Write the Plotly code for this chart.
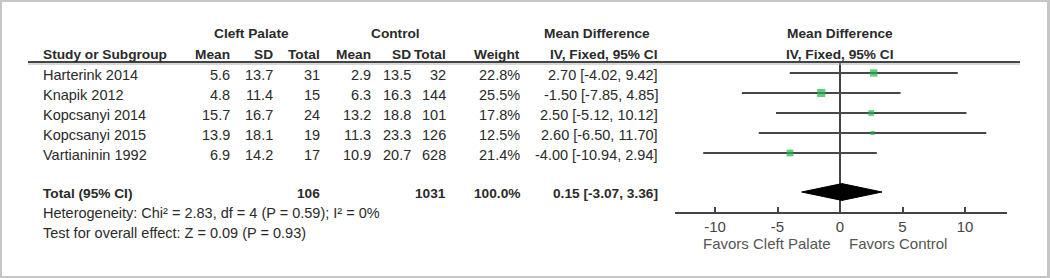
import plotly.graph_objects as go

# ---------------- data ----------------
studies = ["Harterink 2014", "Knapik 2012", "Kopcsanyi 2014", "Kopcsanyi 2015", "Vartianinin 1992"]
cp_mean = [5.6, 4.8, 15.7, 13.9, 6.9]
cp_sd = [13.7, 11.4, 16.7, 18.1, 14.2]
cp_total = [31, 15, 24, 19, 17]
ct_mean = [2.9, 6.3, 13.2, 11.3, 10.9]
ct_sd = [13.5, 16.3, 18.8, 23.3, 20.7]
ct_total = [32, 144, 101, 126, 628]
weight = [22.8, 25.5, 17.8, 12.5, 21.4]
md = [2.70, -1.50, 2.50, 2.60, -4.00]
ci_low = [-4.02, -7.85, -5.12, -6.50, -10.94]
ci_high = [9.42, 4.85, 10.12, 11.70, 2.94]

total_cp = 106
total_ct = 1031
total_weight = 100.0
total_md = 0.15
total_low = -3.07
total_high = 3.36

heterogeneity_text = "Heterogeneity: Chi² = 2.83, df = 4 (P = 0.59); I² = 0%"
overall_text = "Test for overall effect: Z = 0.09 (P = 0.93)"
tick_vals = [-10, -5, 0, 5, 10]
tick_text = ["-10", "-5", "0", "5", "10"]
favors_left = "Favors Cleft Palate"
favors_right = "Favors Control"

# ---------------- layout constants ----------------
W, H = 1050, 278
FONT = "Liberation Sans, Arial, sans-serif"
TXT = "#2a2a2a"
ROW0, ROWH = 73, 20          # pixel of row 0, pixels per row
X0_PX, PX_PER_UNIT = 840, 12.5


def px(x):
    return x / W


def ry(r):
    """row index -> paper y"""
    return 1 - (ROW0 + ROWH * r) / H


# column right edges (pixels)
COL = dict(study=41, cp_mean=232, cp_sd=275, cp_total=322, ct_mean=373, ct_sd=413,
           ct_total=448, weight=522, ci=660)

rows = list(range(len(studies)))
total_row = 6

fig = go.Figure()

# CI lines
xs, ys = [], []
for r, lo, hi in zip(rows, ci_low, ci_high):
    xs += [lo, hi, None]
    ys += [r, r, None]
fig.add_trace(go.Scatter(x=xs, y=ys, mode="lines", line=dict(color="#474747", width=2),
                         hoverinfo="skip", showlegend=False))
# point estimates
fig.add_trace(go.Scatter(x=md, y=rows, mode="markers",
                         marker=dict(symbol="square", color="#1fb84a",
                                     size=[0.32 * w for w in weight], line=dict(width=0)),
                         showlegend=False))
# diamond
dh = 0.42
dy = total_row - 0.05
fig.add_trace(go.Scatter(x=[total_low, total_md, total_high, total_md, total_low],
                         y=[dy, dy - dh, dy, dy + dh, dy], mode="lines", fill="toself",
                         fillcolor="black", line=dict(color="black", width=1),
                         showlegend=False))

ann = []


def txt(x, r, s, anchor="right", bold=False, size=14.5, color=TXT, xref="paper"):
    ann.append(dict(x=x, y=ry(r), xref=xref, yref="paper", text=s, showarrow=False,
                    xanchor=anchor, yanchor="middle",
                    font=dict(family=FONT, size=13.7 if bold else size, color=color,
                              weight="bold" if bold else "normal")))


# headers
txt(px(251), -2.0, "Cleft Palate", "center", True)
txt(px(395), -2.0, "Control", "center", True)
txt(px(597), -2.0, "Mean Difference", "center", True)
txt(0, -2.0, "Mean Difference", "center", True, xref="x")
hy = -0.95
txt(px(COL["study"]), hy, "Study or Subgroup", "left", True)
txt(px(COL["cp_mean"]), hy, "Mean", bold=True)
txt(px(COL["cp_sd"]), hy, "SD", bold=True)
txt(px(COL["cp_total"]), hy, "Total", bold=True)
txt(px(COL["ct_mean"]), hy, "Mean", bold=True)
txt(px(COL["ct_sd"]), hy, "SD", bold=True)
txt(px(COL["ct_total"]), hy, "Total", bold=True)
txt(px(COL["weight"]), hy, "Weight", bold=True)
txt(px(COL["ci"]), hy, "IV, Fixed, 95% CI", bold=True)
txt(0, hy, "IV, Fixed, 95% CI", "center", True, xref="x")

# study rows
for i, r in enumerate(rows):
    y = r + 0.1
    txt(px(COL["study"]), y, studies[i], "left")
    txt(px(COL["cp_mean"]), y, f"{cp_mean[i]:.1f}")
    txt(px(COL["cp_sd"]), y, f"{cp_sd[i]:.1f}")
    txt(px(COL["cp_total"]), y, f"{cp_total[i]}")
    txt(px(COL["ct_mean"]), y, f"{ct_mean[i]:.1f}")
    txt(px(COL["ct_sd"]), y, f"{ct_sd[i]:.1f}")
    txt(px(COL["ct_total"]), y, f"{ct_total[i]}")
    txt(px(COL["weight"]), y, f"{weight[i]:.1f}%")
    txt(px(COL["ci"]), y, f"{md[i]:.2f} [{ci_low[i]:.2f}, {ci_high[i]:.2f}]")

# total row
txt(px(COL["study"]), total_row, "Total (95% CI)", "left", True)
txt(px(COL["cp_total"]), total_row, f"{total_cp}", bold=True)
txt(px(COL["ct_total"]), total_row, f"{total_ct}", bold=True)
txt(px(COL["weight"]), total_row, f"{total_weight:.1f}%", bold=True)
txt(px(COL["ci"]), total_row, f"{total_md:.2f} [{total_low:.2f}, {total_high:.2f}]", bold=True)

txt(px(COL["study"]), 7.0, heterogeneity_text, "left")
txt(px(COL["study"]), 8.0, overall_text, "left")

# favors labels
txt(-0.56, 8.5, favors_left, "right", size=15, color="#555555", xref="x")
txt(0.56, 8.5, favors_right, "left", size=15, color="#555555", xref="x")

shapes = [
    dict(type="rect", xref="paper", yref="paper", x0=px(2), x1=px(1047), y0=1 - 276 / H,
         y1=1 - 2 / H, fillcolor="white", line=dict(width=0), layer="below"),
    dict(type="line", xref="paper", yref="paper", x0=px(28), x1=px(1020), y0=ry(-0.55),
         y1=ry(-0.55), line=dict(color="#444444", width=2)),
    dict(type="line", xref="paper", yref="paper", x0=px(28), x1=px(1020), y0=ry(-0.45),
         y1=ry(-0.45), line=dict(color="#b0b0b0", width=1)),
]

ax_l, ax_r = 675, 1007
fig.update_layout(
    width=W, height=H, margin=dict(l=0, r=0, t=0, b=0),
    paper_bgcolor="#c6c6c6", plot_bgcolor="rgba(0,0,0,0)",
    showlegend=False, annotations=ann, shapes=shapes,
    xaxis=dict(domain=[px(ax_l), px(ax_r)],
               range=[(ax_l - X0_PX) / PX_PER_UNIT, (ax_r - X0_PX) / PX_PER_UNIT],
               showgrid=False, showline=True, linecolor="#444444", linewidth=2,
               ticks="inside", ticklen=5, tickwidth=2, tickcolor="#444444",
               tickvals=tick_vals, ticktext=tick_text,
               tickfont=dict(family=FONT, size=15, color="#444444"),
               zeroline=True, zerolinecolor="#444444", zerolinewidth=2, anchor="y",
               fixedrange=True),
    yaxis=dict(domain=[ry(6.95), ry(-0.55)], range=[6.95, -0.55], visible=False,
               showgrid=False, zeroline=False, fixedrange=True),
)

fig.write_html("out.html", post_script="document.body.style.margin='0';",
               config={"displayModeBar": False})
